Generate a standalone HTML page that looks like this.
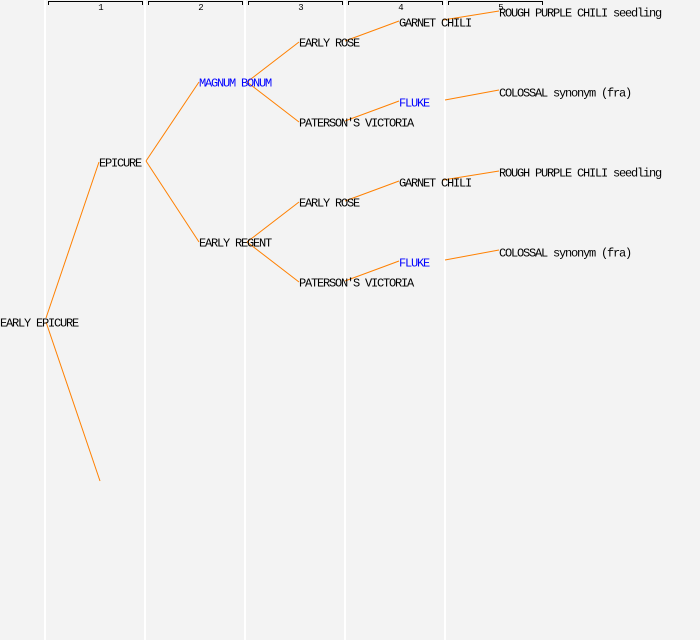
<!DOCTYPE html>
<html><head><style>
html,body{margin:0;padding:0;background:#f3f3f3;}
svg{display:block}
text{font-family:"Liberation Mono","DejaVu Sans Mono",monospace;font-size:12px;letter-spacing:-1.2px;fill:#000;}
.n{font-size:9px;letter-spacing:0;}
.b{fill:#0000ff}
</style></head><body>
<svg width="700" height="640" viewBox="0 0 700 640" xmlns="http://www.w3.org/2000/svg">
<rect width="700" height="640" fill="#f3f3f3"/>
<g stroke="#ffffff" stroke-width="2">
<line x1="45" y1="0" x2="45" y2="640"/><line x1="145" y1="0" x2="145" y2="640"/><line x1="245" y1="0" x2="245" y2="640"/><line x1="345" y1="0" x2="345" y2="640"/><line x1="445" y1="0" x2="445" y2="640"/>
</g>
<g stroke="#000" stroke-width="1" fill="none">
<path d="M48.5 5V1.5H142.5V5"/><path d="M148.5 5V1.5H242.5V5"/><path d="M248.5 5V1.5H342.5V5"/><path d="M348.5 5V1.5H442.5V5"/><path d="M448.5 5V1.5H542.5V5"/>
</g>
<g text-anchor="middle">
<text class="n" x="101" y="10">1</text><text class="n" x="201" y="10">2</text><text class="n" x="301" y="10">3</text><text class="n" x="401" y="10">4</text><text class="n" x="501" y="10">5</text>
</g>
<g stroke="#ff8000" stroke-width="1" fill="none">
<line x1="46" y1="318" x2="99" y2="162"/>
<line x1="46" y1="322" x2="100" y2="481"/>
<line x1="146" y1="161" x2="199" y2="82"/>
<line x1="146" y1="161" x2="199" y2="242"/>
<line x1="247" y1="82" x2="299" y2="42"/>
<line x1="247" y1="82" x2="299" y2="122"/>
<line x1="247" y1="242" x2="299" y2="202"/>
<line x1="247" y1="242" x2="299" y2="282"/>
<line x1="345" y1="41" x2="399" y2="21"/>
<line x1="345" y1="121" x2="399" y2="101"/>
<line x1="345" y1="201" x2="399" y2="181"/>
<line x1="345" y1="281" x2="399" y2="261"/>
<line x1="443" y1="20" x2="499" y2="11"/>
<line x1="445" y1="100" x2="499" y2="90"/>
<line x1="443" y1="180" x2="499" y2="171"/>
<line x1="445" y1="260" x2="499" y2="250"/>
</g>
<text x="0" y="326.5">EARLY EPICURE</text>
<text x="99" y="166.5">EPICURE</text>
<text class="b" x="199" y="86.5">MAGNUM BONUM</text>
<text x="199" y="246.5">EARLY REGENT</text>
<text x="299" y="46.5">EARLY ROSE</text>
<text x="299" y="126.5">PATERSON'S VICTORIA</text>
<text x="299" y="206.5">EARLY ROSE</text>
<text x="299" y="286.5">PATERSON'S VICTORIA</text>
<text x="399" y="26.5">GARNET CHILI</text>
<text class="b" x="399" y="106.5">FLUKE</text>
<text x="399" y="186.5">GARNET CHILI</text>
<text class="b" x="399" y="266.5">FLUKE</text>
<text x="499" y="16.5">ROUGH PURPLE CHILI seedling</text>
<text x="499" y="96.5">COLOSSAL synonym (fra)</text>
<text x="499" y="176.5">ROUGH PURPLE CHILI seedling</text>
<text x="499" y="256.5">COLOSSAL synonym (fra)</text>
</svg>
</body></html>
